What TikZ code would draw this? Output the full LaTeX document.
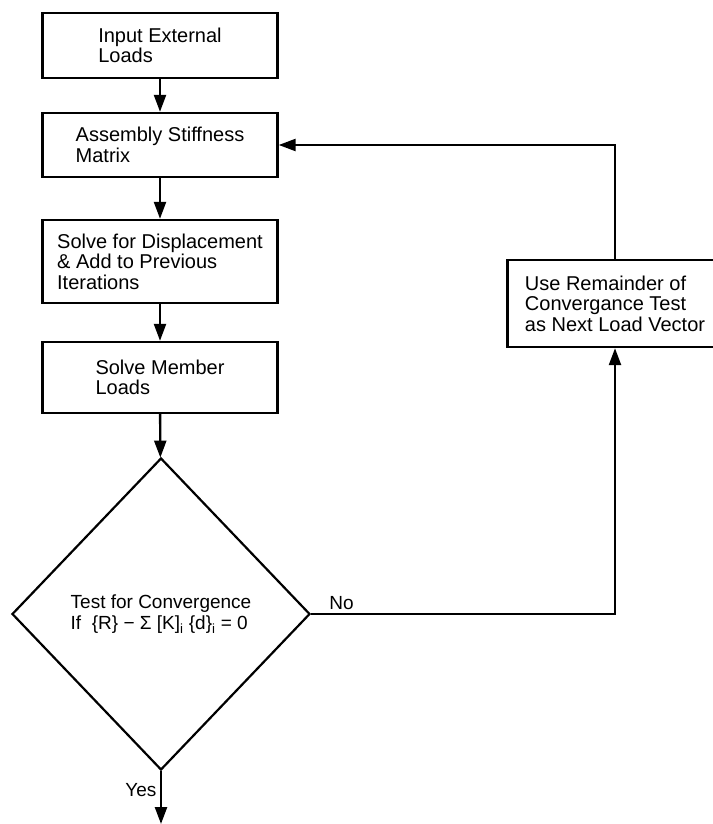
\documentclass[tikz,border=0pt]{standalone}
\usepackage{fontspec}
\setmainfont{Liberation Sans}
\usetikzlibrary{arrows.meta,shapes.geometric}

\tikzset{
  stepbox/.style={draw, line width=2.4pt, rectangle, align=left, inner sep=0pt,
    font=\fontsize{20}{20.5}\selectfont},
  testbox/.style={draw, line width=2.2pt, diamond, align=left, inner sep=0pt,
    minimum width=298pt, minimum height=312pt, font=\fontsize{19}{18}\selectfont},
  flow/.style={line width=2.4pt, -{Triangle[length=17pt,width=12pt]}},
  lbl/.style={font=\fontsize{19}{18}\selectfont}
}

\begin{document}
\begin{tikzpicture}[x=1pt,y=-1pt]
  \useasboundingbox (0,0) rectangle (712,824);

  % Boxes
  \node[stepbox, minimum width=235pt, minimum height=65pt] (input) at (160,45.5)
    {Input External\\Loads};
  \node[stepbox, minimum width=235pt, minimum height=64pt] (assembly) at (160,145)
    {Assembly Stiffness\\Matrix};
  \node[stepbox, minimum width=235pt, minimum height=83pt] (solve) at (160,261.5)
    {Solve for Displacement\\\& Add to Previous\\Iterations};
  \node[stepbox, minimum width=235pt, minimum height=71pt] (member) at (160,377.5)
    {Solve Member\\Loads};
  \node[stepbox, minimum width=215pt, minimum height=87pt] (remainder) at (615,303.5)
    {Use Remainder of\\Convergance Test\\as Next Load Vector};

  % Decision
  \node[testbox] (test) at (161,614)
    {Test for Convergence\\[3pt]If \ \{R\} − Σ [K]\textsubscript{i} \{d\}\textsubscript{i} = 0};
  \coordinate (exit) at (161,824);

  % Arrows
  \draw[flow] (input) -- (assembly);
  \draw[flow] (assembly) -- (solve);
  \draw[flow] (solve) -- (member);
  \draw[flow] (member) -- (test);
  \draw[flow] (test.south) -- node[lbl, left, pos=0.35] {Yes} (exit);
  \draw[flow] (test.east) -- node[lbl, above, pos=0.1] {No} (test.east -| remainder)
    -- (remainder);
  \draw[flow] (remainder) |- (assembly);
\end{tikzpicture}
\end{document}
